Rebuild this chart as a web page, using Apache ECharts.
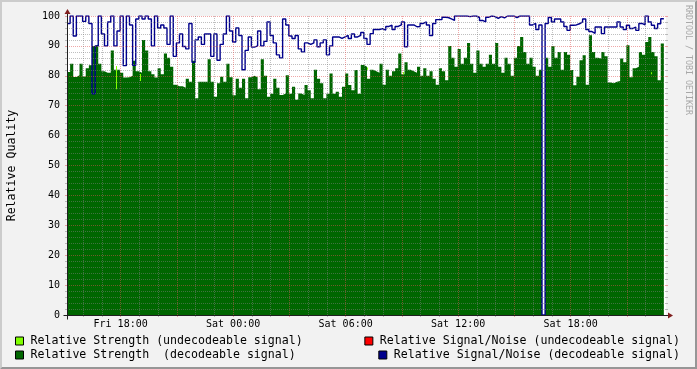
<!DOCTYPE html>
<html>
<head>
<meta charset="utf-8">
<script src="https://cdn.jsdelivr.net/npm/echarts@6.0.0/dist/echarts.min.js"></script>
<style>
html,body{margin:0;padding:0;background:#F2F2F2;}
#c{width:697px;height:369px;}
</style>
</head>
<body>
<div id="c"></div>
<script>
// ---- data (hours counted from Fri 00:00) ----
const T0 = 15.14;          // first sample, Fri ~15:08
const STEP = 1 / 6;        // 10 minutes
const X_MAX = 47.087;      // right edge of the graph

const X_LABEL_HOURS = [18, 24, 30, 36, 42];
const X_LABELS = ['Fri 18:00', 'Sat 00:00', 'Sat 06:00', 'Sat 12:00', 'Sat 18:00'];
const X_MAJOR_HOURS = [18, 21, 24, 27, 30, 33, 36, 39, 42, 45];
const X_MINOR_HOURS = [16, 17, 19, 20, 22, 23, 25, 26, 28, 29, 31, 32, 34, 35, 37, 38, 40, 41, 43, 44, 46];

const NAME_STR_UNDEC = 'Relative Strength (undecodeable signal)';
const NAME_STR_DEC = 'Relative Strength  (decodeable signal)';
const NAME_SN_UNDEC = 'Relative Signal/Noise (undecodeable signal)';
const NAME_SN_DEC = 'Relative Signal/Noise (decodeable signal)';

// Relative Strength (decodeable)
const STRENGTH_DEC = [
  81.3, 84, 79.6, 80.2, 84, 79.8, 82.5, 83.5, 90, 90.5,
  84, 81.5, 81, 81, 88.5, 82, 82, 81, 79.4, 79.5,
  80, 85, 81.5, 81, 92, 88.5, 81.5, 80.5, 79.4, 82.5,
  80.5, 87.5, 86, 83, 77, 76.5, 76.5, 76, 79, 78,
  85, 72.5, 78, 78, 78, 85.5, 78, 73, 77.5, 79.7,
  78, 84, 79.5, 73.5, 79, 76, 79, 72.5, 79.5, 80,
  79.5, 75.5, 85.5, 80, 73, 74, 79, 76, 73.6, 74.1,
  80.2, 74, 76.3, 72, 74.1, 73.6, 76.9, 75.2, 72.5, 82,
  79, 77.5, 72.5, 74, 80.8, 74, 74.7, 73, 76.3, 80.8,
  76.9, 75.2, 81.9, 74, 83.6, 83, 79, 82, 81.5, 81,
  84, 77, 82, 80, 81.5, 82.5, 87.5, 80.5, 84.5, 82,
  81.5, 81, 83, 80, 82.5, 80, 81.5, 79, 77, 82.5,
  81.5, 78.5, 90, 86, 83, 89, 84, 86, 91, 84,
  81, 88.5, 84, 83, 84, 87, 84, 91, 83, 81,
  86, 84, 80, 86, 90, 93, 88, 84, 86, 83,
  80, 82, 0, 86, 83, 90, 86, 88, 82, 88,
  87, 81.9, 76.8, 79.7, 85.2, 86.9, 77, 93.6, 88, 86,
  85.8, 88, 86.5, 77.8, 77.5, 78, 78.3, 85.8, 84.5, 90.2,
  79.5, 82.5, 83, 88, 87, 91.3, 93, 88, 86.5, 78.5,
  90.8
];

// Relative Signal/Noise (decodeable)
const SN_DEC = [
  97.5, 100, 93.3, 100, 100, 98.2, 100, 97.5, 74, 90,
  100, 94, 90, 98, 100, 90, 95, 100, 83.4, 100,
  97, 83.5, 99, 100, 99, 100, 99, 90, 100, 96,
  97, 96, 90.5, 100, 86.5, 91, 94, 89.8, 89, 97.5,
  84.5, 92, 93, 90.5, 94, 94, 86.5, 94, 85.2, 90.5,
  94, 100, 95, 91.3, 96, 93.5, 82, 88.5, 93, 89.6,
  90, 95, 90, 91.5, 98, 93.5, 91, 87, 86, 99,
  97, 93.3, 92.5, 93.5, 89, 88, 91, 90.5, 91, 92,
  89.7, 91, 92, 87, 90, 93, 93, 92.5, 93, 93.5,
  92.5, 94, 93, 93.5, 94.5, 92.5, 90.5, 94.1, 95.5, 95.5,
  95.8, 95.3, 96.5, 96.9, 95.5, 96.5, 97, 98, 89.7, 97,
  97, 96.4, 96.5, 97.5, 98, 97, 93.5, 97.5, 98.8, 98.8,
  99.6, 99.5, 99, 98.5, 100, 100, 100, 100, 99.8, 100,
  100, 99.5, 98.5, 98, 99.6, 100, 99.8, 99.2, 99.8, 99.4,
  100, 100, 100, 99.5, 100, 100, 100, 100, 97, 97.5,
  95.5, 97, 0, 97.5, 99.5, 98, 99, 99, 98, 96.5,
  95.2, 96.9, 97, 97.4, 98, 99, 95.5, 94.8, 94.2, 96.3,
  96.3, 94.1, 96.3, 96.3, 96.3, 96.3, 98, 96.3, 95.5, 96.9,
  95.8, 96.3, 95.2, 97.5, 97, 100, 98, 96.9, 95.8, 97.4,
  99.1
];

// Relative Strength (undecodeable): short moments, hour / from / to
const STR_UNDEC_HOURS = [17.75, 19.03, 31.12, 33.06, 46.27];
const STR_UNDEC_LOW = [75.5, 78.3, 82.0, 80.5, 80.5];
const STR_UNDEC_HIGH = [83.3, 80.6, 82.8, 81.3, 81.2];

// Relative Signal/Noise (undecodeable): none in this period
const SN_UNDEC = [];

// ---- styling ----
const MONO = "'DejaVu Sans Mono', monospace";
const GRID_C = 'rgba(128,128,128,0.5)';
const MGRID_C = 'rgba(224,79,79,0.5)';
const C_DG = '#006600', C_LG = '#80FF00', C_RED = '#FF0000', C_BLUE = '#00008C';

function stepData(arr) {
  const d = arr.map((v, i) => [T0 + i * STEP, v]);
  d.push([T0 + arr.length * STEP, arr[arr.length - 1]]);
  return d;
}

const chart = echarts.init(document.getElementById('c'), null, {renderer: 'canvas'});

const legendBase = {
  orient: 'vertical', itemWidth: 8, itemHeight: 8, itemGap: 2, icon: 'rect',
  selectedMode: false,
  itemStyle: {borderColor: '#000', borderWidth: 1},
  textStyle: {fontFamily: MONO, fontSize: 11.6, color: '#000', lineHeight: 12, padding: [0, 0, 0, 2]},
  padding: 0
};

const option = {
  animation: false,
  backgroundColor: '#F2F2F2',
  grid: {left: 67, right: 31, top: 16, bottom: 54, show: true, backgroundColor: '#FFFFFF', borderWidth: 0, outerBoundsMode: 'none'},
  legend: [
    Object.assign({}, legendBase, {left: 15, top: 335, data: [NAME_STR_UNDEC, NAME_STR_DEC]}),
    Object.assign({}, legendBase, {right: 17, top: 335, data: [NAME_SN_UNDEC]}),
    Object.assign({}, legendBase, {right: 17, top: 349, data: [NAME_SN_DEC]})
  ],
  xAxis: [
    {
      type: 'value', min: T0, max: X_MAX, position: 'bottom', z: 5,
      axisLine: {show: false},
      axisTick: {show: true, length: 2, customValues: X_MAJOR_HOURS, lineStyle: {color: MGRID_C}},
      axisLabel: {
        customValues: X_LABEL_HOURS, fontFamily: MONO, fontSize: 10, color: '#000', margin: 4,
        formatter: v => X_LABELS[X_LABEL_HOURS.indexOf(v)]
      },
      splitLine: {show: true, lineStyle: {color: MGRID_C, type: [1, 1], width: 1}},
      minorTick: {show: false}, minorSplitLine: {show: false}
    },
    {
      type: 'value', min: T0, max: X_MAX, position: 'bottom', z: 5,
      axisLine: {show: false},
      axisTick: {show: true, length: 2, customValues: X_MINOR_HOURS, lineStyle: {color: GRID_C}},
      axisLabel: {show: false},
      splitLine: {show: true, lineStyle: {color: GRID_C, type: [1, 1], width: 1}}
    }
  ],
  yAxis: [
    {
      type: 'value', min: 0, max: 100, interval: 10, position: 'left', z: 5,
      axisLine: {show: false},
      axisTick: {show: true, length: 2, lineStyle: {color: MGRID_C}},
      minorTick: {show: true, splitNumber: 5, length: 2, lineStyle: {color: GRID_C}},
      axisLabel: {fontFamily: MONO, fontSize: 10, color: '#000', margin: 7},
      splitLine: {show: true, lineStyle: {color: MGRID_C, type: [1, 1], width: 1}},
      minorSplitLine: {show: true, lineStyle: {color: GRID_C, type: [1, 1], width: 1}},
      name: 'Relative Quality', nameLocation: 'middle', nameGap: 49,
      nameTextStyle: {fontFamily: MONO, fontSize: 11.6, color: '#000'}
    },
    {
      type: 'value', min: 0, max: 100, interval: 10, position: 'right', z: 5,
      axisLine: {show: false},
      axisTick: {show: true, length: 2, lineStyle: {color: MGRID_C}},
      minorTick: {show: true, splitNumber: 5, length: 2, lineStyle: {color: GRID_C}},
      axisLabel: {show: false},
      splitLine: {show: false}
    }
  ],
  series: [
    {
      name: NAME_STR_DEC, type: 'line', step: 'end', symbol: 'none', z: 2,
      xAxisIndex: 0, yAxisIndex: 0,
      data: stepData(STRENGTH_DEC),
      lineStyle: {width: 0, color: C_DG}, itemStyle: {color: C_DG},
      areaStyle: {color: C_DG, opacity: 1}
    },
    {
      name: NAME_STR_UNDEC, type: 'custom', z: 3, xAxisIndex: 0, yAxisIndex: 0,
      itemStyle: {color: C_LG},
      data: STR_UNDEC_HOURS.map((t, k) => [t, STR_UNDEC_LOW[k], STR_UNDEC_HIGH[k]]),
      encode: {x: 0, y: [1, 2]},
      renderItem: function (params, api) {
        const lo = api.coord([api.value(0), api.value(1)]);
        const hi = api.coord([api.value(0), api.value(2)]);
        return {
          type: 'rect',
          shape: {x: Math.round(hi[0]), y: hi[1], width: 1, height: Math.max(1, lo[1] - hi[1])},
          style: {fill: C_LG}
        };
      }
    },
    {
      name: NAME_SN_UNDEC, type: 'line', step: 'end', symbol: 'none', z: 4,
      xAxisIndex: 0, yAxisIndex: 0,
      data: SN_UNDEC, lineStyle: {color: C_RED, width: 1.4}, itemStyle: {color: C_RED}
    },
    {
      name: NAME_SN_DEC, type: 'line', step: 'end', symbol: 'none', z: 4,
      xAxisIndex: 0, yAxisIndex: 0,
      data: stepData(SN_DEC),
      lineStyle: {color: C_BLUE, width: 1.4}, itemStyle: {color: C_BLUE}
    }
  ]
};

chart.setOption(option);

// axis lines, arrows, 3d frame and watermark
const o = chart.convertToPixel({xAxisIndex: 0, yAxisIndex: 0}, [T0, 0]);
const e = chart.convertToPixel({xAxisIndex: 0, yAxisIndex: 0}, [X_MAX, 100]);
const x0 = Math.round(o[0]) + 0.5, y0 = Math.round(o[1]) + 0.5;
const x1 = Math.round(e[0]), yt = Math.round(e[1]);
const W = 697, H = 369;
chart.setOption({
  graphic: [
    {type: 'polygon', z: 0, silent: true, shape: {points: [[0, H], [2, H - 2], [2, 2], [W - 2, 2], [W, 0], [0, 0]]}, style: {fill: '#CCCCCC'}},
    {type: 'polygon', z: 0, silent: true, shape: {points: [[2, H - 2], [W - 2, H - 2], [W - 2, 2], [W, 0], [W, H], [0, H]]}, style: {fill: '#969696'}},
    {type: 'line', z: 20, silent: true, shape: {x1: x0 - 4, y1: y0, x2: x1 + 4, y2: y0}, style: {stroke: '#1F1F1F', lineWidth: 1}},
    {type: 'line', z: 20, silent: true, shape: {x1: x0, y1: y0 + 4, x2: x0, y2: yt - 4}, style: {stroke: '#1F1F1F', lineWidth: 1}},
    {type: 'polygon', z: 21, silent: true, shape: {points: [[x1 + 2, y0 - 3], [x1 + 2, y0 + 3], [x1 + 7, y0]]}, style: {fill: '#801F1F'}},
    {type: 'polygon', z: 21, silent: true, shape: {points: [[x0 - 3, yt - 2], [x0 + 3, yt - 2], [x0, yt - 7]]}, style: {fill: '#801F1F'}},
    {type: 'text', z: 20, silent: true, x: 688, y: 60, rotation: -Math.PI / 2,
      style: {text: 'RRDTOOL / TOBI OETIKER', fill: '#A8A8A8', font: "8.3px 'DejaVu Sans Mono'", align: 'center', verticalAlign: 'middle'}}
  ]
});
</script>
</body>
</html>
